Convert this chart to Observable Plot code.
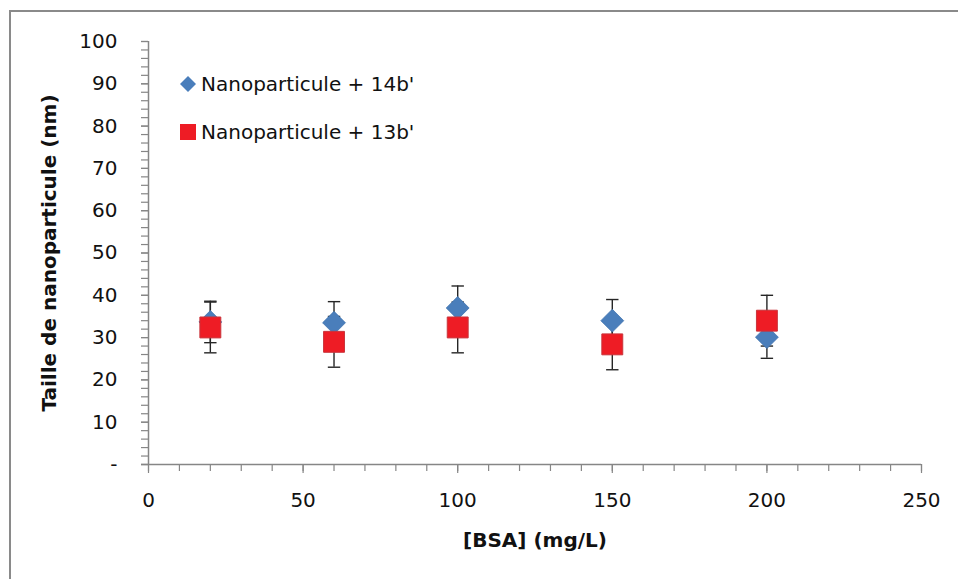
<!DOCTYPE html>
<html>
<head>
<meta charset="utf-8">
<script src="https://cdn.jsdelivr.net/npm/d3@7"></script>
<script src="https://cdn.jsdelivr.net/npm/@observablehq/plot@0.6"></script>
<style>
  html, body { margin: 0; padding: 0; background: #fff; }
  #wrap { position: relative; width: 958px; height: 579px; overflow: hidden; font-family: "DejaVu Sans", sans-serif; }
  #frame { position: absolute; left: 9px; top: 10px; width: 2000px; height: 2000px; border-top: 2px solid #8a8a8a; border-left: 2px solid #8a8a8a; box-sizing: border-box; pointer-events: none; }
  #chart { position: absolute; left: 0; top: 0; }
  #legend { position: absolute; left: 179px; top: 60px; font-size: 20px; color: #111; }
  .item { display: flex; align-items: center; height: 48px; }
  .item svg { margin-right: 4px; }
</style>
</head>
<body>
<div id="wrap">
  <div id="chart"></div>
  <div id="frame"></div>
  <div id="legend"></div>
</div>
<script>
// Data
const bsa = [20, 60, 100, 150, 200];
const series14b = [33.7, 33.5, 37.0, 34.0, 30.1];
const err14b = [4.9, 5.0, 5.2, 5.0, 5.0];
const series13b = [32.4, 29.0, 32.4, 28.4, 34.0];
const err13b = [6.0, 6.0, 6.0, 6.0, 6.0];
const seriesNames = ["Nanoparticule + 14b'", "Nanoparticule + 13b'"];
const yTicks = [0, 10, 20, 30, 40, 50, 60, 70, 80, 90, 100];
const xTicks = [0, 50, 100, 150, 200, 250];
const yMinorTicks = d3.range(0, 101, 2);
const xMinorTicks = d3.range(0, 251, 10);

const blue = "#4a7ebb";
const red = "#ee1c25";
const errColor = "#262626";

const rows14 = bsa.map((x, i) => ({x, y: series14b[i], lo: series14b[i] - err14b[i], hi: series14b[i] + err14b[i]}));
const rows13 = bsa.map((x, i) => ({x, y: series13b[i], lo: series13b[i] - err13b[i], hi: series13b[i] + err13b[i]}));
const allRows = rows14.concat(rows13);

const capSymbol = { draw(ctx, size) { const w = 6.2; ctx.moveTo(-w, 0); ctx.lineTo(w, 0); } };

const axisColor = "#868686";
const blank = () => "";

const chart = Plot.plot({
  width: 958,
  height: 579,
  marginLeft: 148,
  marginRight: 37,
  marginTop: 41,
  marginBottom: 115,
  style: { fontFamily: "DejaVu Sans, sans-serif", fontSize: "20px", color: "#111", background: "transparent" },
  x: { domain: [0, 250], ticks: xTicks },
  y: { domain: [0, 100], ticks: yTicks },
  marks: [
    // minor ticks
    Plot.axisY({ ticks: yMinorTicks, tickSize: 7, stroke: axisColor, strokeWidth: 1.2, tickFormat: blank, label: null }),
    Plot.axisX({ ticks: xMinorTicks, tickSize: 7, stroke: axisColor, strokeWidth: 1.2, tickFormat: blank, label: null }),
    // major ticks with labels
    Plot.axisY({ ticks: yTicks, tickSize: 7, tickPadding: 24, stroke: axisColor, strokeWidth: 1.2,
      tickFormat: d => d === 0 ? "-" : String(d), label: null }),
    Plot.axisX({ ticks: xTicks, tickSize: 9, tickPadding: 19, stroke: axisColor, strokeWidth: 1.2, label: null }),
    Plot.ruleY([0], { stroke: axisColor, strokeWidth: 1.5, insetLeft: -7 }),
    Plot.ruleX([0], { stroke: axisColor, strokeWidth: 1.5 }),
    // error bars
    Plot.ruleX(allRows, { x: "x", y1: "lo", y2: "hi", stroke: errColor, strokeWidth: 1.4 }),
    Plot.dot(allRows, { x: "x", y: "lo", symbol: capSymbol, stroke: errColor, strokeWidth: 1.4, fill: "none" }),
    Plot.dot(allRows, { x: "x", y: "hi", symbol: capSymbol, stroke: errColor, strokeWidth: 1.4, fill: "none" }),
    // markers
    Plot.dot(rows14, { x: "x", y: "y", symbol: "diamond2", r: 10.3, fill: blue, stroke: "#3f72ae", strokeWidth: 0.8 }),
    Plot.dot(rows13, { x: "x", y: "y", symbol: "square", r: 11.8, fill: red, stroke: "#c9343b", strokeWidth: 1 }),
    // axis titles
    Plot.text(["[BSA] (mg/L)"], { frameAnchor: "bottom", dy: 82, fontWeight: "bold", fontSize: 20 }),
    Plot.text(["Taille de nanoparticule (nm)"], { frameAnchor: "left", dx: -99, rotate: -90, textAnchor: "middle", fontWeight: "bold", fontSize: 20 })
  ]
});
document.getElementById("chart").appendChild(chart);

// Legend
const legend = document.getElementById("legend");
const syms = [
  `<svg width="18" height="18" viewBox="-9 -9 18 18"><path d="M0,-8L8,0L0,8L-8,0Z" fill="${blue}"/></svg>`,
  `<svg width="18" height="18" viewBox="-9 -9 18 18"><rect x="-8" y="-8" width="16" height="16" fill="${red}"/></svg>`
];
seriesNames.forEach((name, i) => {
  const div = document.createElement("div");
  div.className = "item";
  div.innerHTML = syms[i] + `<span>${name}</span>`;
  legend.appendChild(div);
});
</script>
</body>
</html>
